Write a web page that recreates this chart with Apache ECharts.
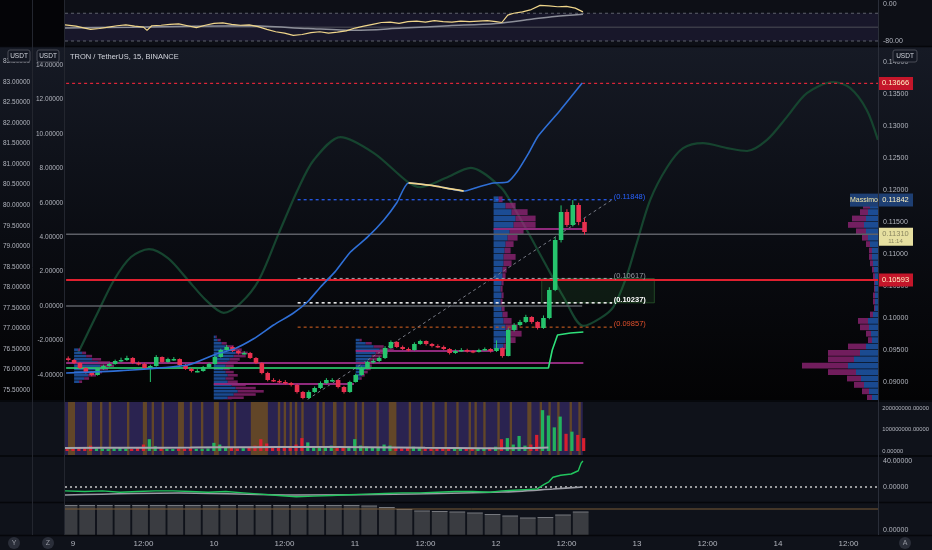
<!DOCTYPE html>
<html><head><meta charset="utf-8">
<script src="https://cdn.jsdelivr.net/npm/echarts@6/dist/echarts.min.js"></script>
<style>html,body{margin:0;padding:0;background:#0e1017;}#c{width:932px;height:550px;}</style>
</head><body><div id="c"></div><script>
// ---------- DATA ----------
const xTickHours = [0,12,24,36,48,60,72,84,96,108,120,132];
const xTickLabels = ['9','12:00','10','12:00','11','12:00','12','12:00','13','12:00','14','12:00'];

const candleStartHour = -1;
const firstOpen = 0.09370;
const closes = [0.09344,0.09297,0.09219,0.09156,0.09109,0.09203,0.09250,0.09281,0.09328,0.09344,
 0.09375,0.09297,0.09281,0.09219,0.09250,0.09391,0.09313,0.09359,0.09359,0.09266,
 0.09203,0.09172,0.09172,0.09234,0.09281,0.09391,0.09500,0.09547,0.09484,0.09453,
 0.09453,0.09375,0.09297,0.09141,0.09031,0.09016,0.09000,0.08984,0.08953,0.08844,
 0.08750,0.08844,0.08906,0.08984,0.09031,0.09031,0.08922,0.08844,0.09000,0.09109,
 0.09219,0.09313,0.09328,0.09375,0.09531,0.09625,0.09547,0.09516,0.09500,0.09594,
 0.09641,0.09594,0.09563,0.09547,0.09516,0.09453,0.09484,0.09500,0.09484,0.09469,
 0.09500,0.09516,0.09484,0.09531,0.09406,0.09813,0.09891,0.09938,0.10016,0.09938,
 0.09844,0.10000,0.10438,0.11219,0.11656,0.11453,0.11766,0.11500,0.11344];
const highs = [0.09400,0.09360,0.09310,0.09230,0.09170,0.09220,0.09270,0.09300,0.09350,0.09380,
 0.09410,0.09390,0.09320,0.09300,0.09270,0.09420,0.09400,0.09380,0.09390,0.09370,
 0.09280,0.09220,0.09200,0.09250,0.09300,0.09420,0.09520,0.09580,0.09560,0.09500,
 0.09480,0.09470,0.09390,0.09310,0.09160,0.09060,0.09040,0.09030,0.09000,0.08970,
 0.08860,0.08870,0.08930,0.09010,0.09060,0.09060,0.09040,0.08940,0.09020,0.09130,
 0.09240,0.09330,0.09360,0.09400,0.09560,0.09650,0.09640,0.09570,0.09540,0.09620,
 0.09660,0.09650,0.09610,0.09590,0.09570,0.09530,0.09510,0.09530,0.09520,0.09500,
 0.09520,0.09540,0.09530,0.09650,0.09540,0.09840,0.09920,0.09970,0.10050,0.10030,
 0.09950,0.10040,0.10480,0.11260,0.11760,0.11700,0.11842,0.11800,0.11560];
const lows = [0.09320,0.09280,0.09200,0.09130,0.09090,0.09100,0.09190,0.09240,0.09270,0.09310,
 0.09330,0.09280,0.09260,0.09200,0.09000,0.09240,0.09300,0.09300,0.09330,0.09250,
 0.09190,0.09150,0.09150,0.09160,0.09220,0.09270,0.09380,0.09490,0.09470,0.09430,
 0.09430,0.09360,0.09280,0.09120,0.09010,0.09000,0.08980,0.08960,0.08930,0.08820,
 0.08730,0.08740,0.08830,0.08890,0.08970,0.09000,0.08900,0.08820,0.08830,0.08990,
 0.09100,0.09200,0.09290,0.09310,0.09360,0.09520,0.09530,0.09500,0.09480,0.09490,
 0.09580,0.09570,0.09540,0.09530,0.09500,0.09430,0.09440,0.09470,0.09460,0.09450,
 0.09460,0.09490,0.09460,0.09470,0.09380,0.09400,0.09790,0.09870,0.09920,0.09910,
 0.09820,0.09830,0.09980,0.10420,0.11180,0.11420,0.11430,0.11450,0.11300];
const volumesM = [12,10,14,18,25,12,10,9,12,15,11,10,
 14,30,55,22,12,10,9,12,11,13,10,9,12,
 38,30,15,14,12,13,18,25,55,35,20,15,14,
 16,30,60,40,20,16,14,25,18,20,15,55,
 25,20,18,16,30,25,14,12,15,20,14,12,
 11,13,15,12,10,11,12,10,12,14,15,20,
 55,60,30,70,25,30,75,190,165,110,160,80,90,75,60];
const volMaHours = [-1.36,10,20,30,40,50,60,70,78,81];
const volMaM = [14,15,16,18,19,18,15,13,14,16];

const stripeStart = [-0.85,2.38,4.6,6.1,9.2,11.9,13.4,15.1,17.9,19.9,21.8,24.0,26.35,27.4,30.3,34.9,35.9,36.9,37.8,38.9,41.5,42.5,44.3,46.1,48.0,49.2,51.7,53.8,57.2,59.2,61.2,63.3,65.3,67.4,68.4,69.9,72.3,74.4,77.4,79.5,81.0,82.5,84.6,86.1];
const stripeEnd   = [0.34,3.23,5.0,6.5,9.6,12.6,13.8,15.5,18.9,20.3,22.2,24.85,26.75,27.8,33.2,35.3,36.3,37.3,38.2,39.3,41.9,42.9,44.9,46.5,48.4,49.6,52.1,55.1,57.6,59.6,61.6,63.7,65.7,67.8,68.8,70.3,72.7,74.8,78.1,79.9,81.4,82.9,85.0,86.5];

// top oscillator (%R)
const wrHours = [-1.36,0.5,2,3,4.5,6,7.5,9,10.5,12,12.6,13.4,15,16.5,18,19.5,21,22.5,24,25.5,27,28.5,30,31.5,33,34.5,36,37.5,39,40.5,42,43.5,45,46.5,48,49.5,51,52.5,54,55.5,57,58.5,60,61.5,63,64.5,66,67.5,69,70.5,72,73,74,75,76.5,78,79.5,81,82.5,84,85.5,86.8];
const wrValues = [-45,-48,-52,-55,-53,-50,-47,-45,-48,-50,-57,-47,-46,-44,-43,-47,-51,-46,-42,-41,-44,-46,-45,-49,-55,-60,-63,-68,-66,-62,-60,-63,-61,-58,-52,-48,-44,-40,-39,-42,-38,-37,-39,-36,-38,-39,-37,-38,-37,-36,-38,-40,-24,-20,-17,-12,-3,-4,-6,-5,-9,-17];
const wrMaHours = [-1.36,10,20,30,40,48,56,64,72,78,82,86.8];
const wrMaValues = [-52,-50,-48,-47,-53,-57,-52,-47,-42,-33,-27,-22];
const wrLevels = [-20,-50,-80];

// main-pane indicators
const blueHours = [-1.36,8.0,19.4,23.8,27.2,30.6,34.0,37.4,39.8,42.0,44.5,47.1,50.0,52.8,55.0,57.0,61.6,64.2,66.4,68.9,71.5,73.9,75.5,77.5,79.1,82.9,86.6];
const blueValues = [-3.89,-3.75,-3.42,-2.84,-2.5,-1.9,-1.1,-0.4,0.25,1.11,2.0,3.14,4.0,5.0,6.0,7.15,6.97,6.80,6.68,6.92,7.15,7.21,7.8,8.9,9.88,11.39,12.95];
const yellowHours = [57.0,61.6,64.2,66.4];
const yellowValues = [7.15,6.97,6.80,6.68];
const waveHours = [0.68,3.74,6.81,9.70,12.77,16.0,19.4,22.47,25.5,28.4,31.5,34.9,38.1,40.85,45.4,51.1,56.85,59.06,63.3,67.6,72.7,74.9,77.8,80.7,83.4,86.8,89.7,91.9,93.96,95.8,98.2,101.1,103.8,107.2,111.3,114.7,118.1,121.5,124.9,129.4,132.3,135.1,137.0];
const waveValues = [76.40,77.30,78.18,78.74,78.93,78.71,78.18,77.69,77.38,77.62,78.18,79.32,80.37,81.10,81.66,81.27,80.57,80.44,80.66,80.91,80.44,79.96,79.23,78.47,77.77,77.06,77.25,77.52,78.18,79.03,80.13,80.93,81.39,81.51,81.39,81.32,81.59,82.15,82.73,83.00,82.85,82.32,81.59];
const stepHours = [-1.36,80.85,81.5,82.4,84.6,86.8];
const stepPrices = [0.09219,0.09219,0.09500,0.09734,0.09766,0.09781];
const pocPrices = [0.09297,0.08969,0.09484,0.11391];
const pocFrom = [-1.36,23.8,48.0,71.5];
const pocTo = [86.8,47.7,71.5,86.8];

const fibPrices = [0.11848,0.10617,0.10237,0.09857];
const fibLow = 0.08626, fibHigh = 0.11848;
const fibFromHour = 38.1, fibToHour = 91.7;
const boxHours = [79.7,98.9];
const boxPrices = [0.10237,0.10617];

const redDashedLevel = 0.13666;
const redSolidLevel = 0.10593;
const lastPriceLevel = 0.11310;
const innerZeroLevel = 0;

const tagPrices = [0.13666,0.11842,0.11310,0.10593];
const tagNotes = ['', 'Massimo', '11:14', ''];

const priceTicks = [0.09,0.095,0.10,0.105,0.11,0.115,0.12,0.125,0.13,0.135,0.14];
const innerTicks = [-4,-2,0,2,4,6,8,10,12,14];
const outerTicks = [75.5,76,76.5,77,77.5,78,78.5,79,79.5,80,80.5,81,81.5,82,82.5,83,83.5];
const volTicks = [0,100000000,200000000];
const oscTicks = [0,40];
const wrTicks = [0,-80];

// oscillator pane
const oscHours = [-1.36,2,5,8,11,14,17,20,23,26,29,32,35,38,41,44,47,50,53,56,59,62,65,68,71,73,75,77,79,80.2,81,81.7,83,84.8,86,86.5,86.8];
const oscValues = [-6,-7,-6,-8,-7,-6,-6,-7,-8,-7,-9,-11,-13,-15,-14,-13,-12,-11,-10,-9,-9,-8,-7,-7,-8,-6,-5,-4,-3,4,8,15,18,20,25,37,40];
const oscMaHours = [-1.36,18,38,58,73,81.7,86.8];
const oscMaValues = [-12.3,-9.2,-12.3,-10.8,-7.7,-3.1,0];

// bottom pane
const lowHours = [-0.5,2.5,5.5,8.5,11.5,14.5,17.5,20.5,23.5,26.5,29.5,32.5,35.5,38.5,41.5,44.5,47.5,50.5,53.5,56.5,59.5,62.5,65.5,68.5,71.5,74.5,77.5,80.5,83.5,86.5];
const lowValues = [24.5,24.5,24.5,24.5,24.5,24.5,24.5,24.5,24.5,24.5,24.5,24.5,24.5,24.5,24.5,24.5,24.5,24,22.5,20.5,19,18.5,18,17,15.5,14,12,12.5,15,18];
const lowLevel = 21;

// volume profiles
const profiles = [
 {anchor:0, dir:1, step:0.0005, start:0.0900,
  up:[5,10,14,18,22,26,24,18,12,8,4], down:[3,5,8,10,12,14,12,9,6,4,2]},
 {anchor:23.8, dir:1, step:0.0005, start:0.0870,
  up:[10,14,20,24,22,18,14,12,14,12,10,12,14,16,20,22,18,12,8,4,2],
  down:[8,16,22,26,20,14,10,8,10,8,6,8,10,10,12,12,10,8,5,3,1]},
 {anchor:48, dir:1, step:0.0005, start:0.0905,
  up:[4,6,8,10,10,12,14,16,20,24,18,10,4], down:[2,3,4,5,6,7,8,10,12,14,10,6,2]},
 {anchor:71.5, dir:1, step:0.001, start:0.0955,
  up:[10,12,14,12,10,9,8,7,8,7,8,9,9,10,10,11,12,14,16,20,22,18,12,5],
  down:[6,10,14,12,8,5,3,2,2,2,2,3,4,8,12,6,8,10,14,22,20,16,10,4]},
 {anchor:137.021, dir:-1, step:0.001, start:0.0875,
  up:[6,9,14,17,22,30,24,18,12,6,7,9,10,5,3,3,3,3,3,3,4,5,6,6,8,10,12,14,12,10,8,4],
  down:[5,7,10,14,28,46,26,32,18,4,5,9,10,3,1,2,2,1,1,2,2,3,3,3,4,6,10,16,14,8,7,2]}
];

// ---------- CHART ----------
const X_MIN = -1.3617, X_MAX = 137.021, LAST_H = 86.85;
const FONT = "'Liberation Sans',sans-serif";
const LBL = '#b2b5be';
const UP = '#26c46d', DOWN = '#e8304f';
const VOL_MIN = -18.6e6, VOL_MAX = 227.9e6;

const chart = echarts.init(document.getElementById('c'), null, {renderer:'canvas'});

const grids = [
 {left:65,right:54,top:0,height:46},
 {left:65,right:54,top:47,height:353},
 {left:65,right:54,top:402,height:53},
 {left:65,right:54,top:457,height:45},
 {left:65,right:54,top:503,height:32}
];
const xAxes = grids.map((g,i)=>({
 type:'value', gridIndex:i, min:X_MIN, max:X_MAX, show:i===4,
 axisLine:{show:false}, axisTick:{show:false}, splitLine:{show:false},
 axisLabel: i===4 ? {customValues:xTickHours, color:LBL, fontSize:8, fontFamily:FONT, margin:5,
   formatter:(v)=>{const k=xTickHours.indexOf(v);return k>=0?xTickLabels[k]:'';}} : {show:false}
}));
function yA(o){
 return Object.assign({type:'value', axisLine:{show:false}, axisTick:{show:false}, splitLine:{show:false}}, o);
}
const yAxes = [
 yA({gridIndex:0, position:'right', min:-90.81, max:8.65, axisLabel:{customValues:wrTicks, color:LBL, fontSize:7, fontFamily:FONT, margin:5, formatter:v=>v.toFixed(2)}}),
 yA({gridIndex:1, position:'right', min:0.0871875, max:0.1423438, axisLabel:{customValues:priceTicks, color:LBL, fontSize:7, fontFamily:FONT, margin:5, formatter:v=>v.toFixed(5)}}),
 yA({gridIndex:1, position:'left', min:-5.454, max:15.045, axisLabel:{customValues:innerTicks, color:LBL, fontSize:6.5, fontFamily:FONT, margin:3, formatter:v=>v.toFixed(5)}}),
 yA({gridIndex:1, position:'left', offset:33, min:75.257, max:83.852, axisLabel:{customValues:outerTicks, color:LBL, fontSize:6.5, fontFamily:FONT, margin:3, formatter:v=>v.toFixed(5)}}),
 yA({gridIndex:2, position:'right', min:VOL_MIN, max:VOL_MAX, axisLabel:{customValues:volTicks, color:LBL, fontSize:5.8, fontFamily:FONT, margin:5, formatter:v=>v.toFixed(5)}}),
 yA({gridIndex:3, position:'right', min:-23.08, max:46.15, axisLabel:{customValues:oscTicks, color:LBL, fontSize:7, fontFamily:FONT, margin:5, formatter:v=>v.toFixed(5)}}),
 yA({gridIndex:4, position:'right', min:-5, max:27, axisLabel:{customValues:[0], color:LBL, fontSize:7, fontFamily:FONT, margin:5, formatter:v=>v.toFixed(5)}})
];

function pairs(xs, ys){ return xs.map((x,i)=>[x, ys[i]]); }
function line(xi, yi, data, color, width, opts){
 return Object.assign({type:'line', xAxisIndex:xi, yAxisIndex:yi, data, symbol:'none', silent:true,
  animation:false, z:3, lineStyle:{color, width, type:'solid'}}, opts||{});
}
function seg(xi, yi, x1, y1, x2, y2, color, width, type, z){
 return line(xi, yi, [[x1,y1],[x2,y2]], color, width, {z:z||3, lineStyle:{color, width, type:type||'solid'}});
}

const series = [];

// ---- top pane
series.push({type:'custom', xAxisIndex:0, yAxisIndex:0, silent:true, z:1, clip:true, data:[[X_MIN, wrLevels[0], X_MAX, wrLevels[2]]],
 renderItem:(p,api)=>{const a=api.coord([api.value(0),api.value(1)]), b=api.coord([api.value(2),api.value(3)]);
  return {type:'rect', shape:{x:a[0],y:a[1],width:b[0]-a[0],height:b[1]-a[1]}, style:{fill:'rgba(110,80,190,0.12)'}};}});
series.push(seg(0,0,X_MIN,wrLevels[0],X_MAX,wrLevels[0],'#5d606b',1.2,[3,3]));
series.push(seg(0,0,X_MIN,wrLevels[2],X_MAX,wrLevels[2],'#5d606b',1.2,[3,3]));
series.push(seg(0,0,X_MIN,wrLevels[1],X_MAX,wrLevels[1],'#3a3b47',1.5));
series.push(line(0,0,pairs(wrMaHours,wrMaValues),'#8d8f99',1.5,{smooth:0.3}));
series.push(line(0,0,pairs(wrHours,wrValues),'#efd58a',1.2,{z:4}));

// ---- main pane
series.push(line(1,3,pairs(waveHours,waveValues),'#16442f',2.2,{smooth:0.3, z:1}));

// green box
series.push({type:'custom', xAxisIndex:1, yAxisIndex:1, silent:true, z:2, clip:true, data:[[boxHours[0],boxPrices[1],boxHours[1],boxPrices[0]]],
 renderItem:(p,api)=>{const a=api.coord([api.value(0),api.value(1)]), b=api.coord([api.value(2),api.value(3)]);
  return {type:'rect', shape:{x:a[0],y:a[1],width:b[0]-a[0],height:b[1]-a[1]}, style:{fill:'rgba(56,142,60,0.14)', stroke:'rgba(76,175,80,0.35)', lineWidth:1}};}});

// volume profiles
profiles.forEach(pr=>{
 const data = pr.up.map((u,i)=>[pr.anchor, pr.start + i*pr.step, u, pr.down[i]]);
 series.push({type:'custom', xAxisIndex:1, yAxisIndex:1, silent:true, z:2, clip:true, data,
  renderItem:(p,api)=>{
   const a=api.coord([api.value(0), api.value(1)+pr.step/2]);
   const b=api.coord([api.value(0), api.value(1)-pr.step/2]);
   const h=Math.max(1,b[1]-a[1]-0.6);
   const u=api.value(2), d=api.value(3), x0=a[0];
   const bx = pr.dir>0 ? x0 : x0-u;
   const px = pr.dir>0 ? x0+u : x0-u-d;
   return {type:'group', children:[
    {type:'rect', shape:{x:bx,y:a[1],width:u,height:h}, style:{fill:'rgba(33,92,180,0.80)'}},
    {type:'rect', shape:{x:px,y:a[1],width:d,height:h}, style:{fill:'rgba(160,40,130,0.70)'}}
   ]};
  }});
});

// horizontal levels
series.push(seg(1,1,X_MIN,redDashedLevel,X_MAX,redDashedLevel,'#e2263a',1.2,[3,3],3));
series.push(seg(1,1,X_MIN,lastPriceLevel,X_MAX,lastPriceLevel,'#5d5f66',1.5,'solid',3));
series.push(seg(1,2,X_MIN,innerZeroLevel,86.6,innerZeroLevel,'#5d5f66',1.5,'solid',3));
// fib
const fibColors = ['#2962ff','#9598a1','#e8e8e8','#b8561e'];
const fibLabelColors = ['#2962ff','#9598a1','#ffffff','#e0502c'];
fibPrices.forEach((fp,i)=>series.push(seg(1,1,fibFromHour,fp,fibToHour,fp,fibColors[i],i===2?1.6:1.2,[3,3],3)));
series.push(seg(1,1,fibFromHour,fibLow,fibToHour,fibHigh,'#787b86',1,[3,3],3));
series.push({type:'custom', xAxisIndex:1, yAxisIndex:1, silent:true, z:6, clip:false,
 data:fibPrices.map((fp,i)=>[fibToHour, fp, i]),
 renderItem:(p,api)=>{const c=api.coord([api.value(0)+0.1,api.value(1)]); const i=api.value(2);
  return {type:'text', style:{text:'('+api.value(1).toFixed(5)+')', x:c[0]+1, y:c[1]+1, fill:fibLabelColors[i],
   fontSize:7.5, fontFamily:FONT, fontWeight:i===2?'bold':'normal', textAlign:'left', align:'left', textVerticalAlign:'bottom', verticalAlign:'bottom'}};}});
// red solid
series.push(seg(1,1,X_MIN,redSolidLevel,X_MAX,redSolidLevel,'#e0202f',2,'solid',4));
// POC lines
pocPrices.forEach((pp,i)=>series.push(seg(1,1,pocFrom[i],pp,pocTo[i],pp,'#8f2a7c',2,'solid',3)));
// green step line
series.push(line(1,1,pairs(stepHours,stepPrices),'#2fe07a',1.6,{z:4}));

// candles
const candleData = closes.map((c,i)=>[candleStartHour+i, i===0?firstOpen:closes[i-1], c, lows[i], highs[i]]);
series.push({type:'custom', xAxisIndex:1, yAxisIndex:1, silent:true, z:5, clip:true, data:candleData,
 renderItem:(p,api)=>{
  const x=api.value(0), o=api.value(1), c=api.value(2), l=api.value(3), h=api.value(4);
  const t=api.coord([x,Math.max(o,c)]), b=api.coord([x,Math.min(o,c)]);
  const hi=api.coord([x,h]), lo=api.coord([x,l]);
  const w=api.size([0.78,0])[0];
  const col=c>=o?UP:DOWN;
  return {type:'group', children:[
   {type:'line', shape:{x1:hi[0],y1:hi[1],x2:lo[0],y2:lo[1]}, style:{stroke:col,lineWidth:1}},
   {type:'rect', shape:{x:t[0]-w/2,y:t[1],width:w,height:Math.max(1.5,b[1]-t[1])}, style:{fill:col}}
  ]};
 }});

// blue indicator + highlight
series.push(line(1,2,pairs(blueHours,blueValues),'#2f6fd6',1.6,{z:6, smooth:0.2}));
series.push(line(1,2,pairs(yellowHours,yellowValues),'#f2d48a',1.8,{z:7, smooth:0.2}));

// price tags
const tagBg = ['#c4162a','#1e3f73','#e6dfa0','#c4162a'];
const tagFg = ['#fff3c4','#fff3c4','#8a8660','#fff3c4'];
series.push({type:'custom', xAxisIndex:1, yAxisIndex:1, silent:true, z:20, clip:false,
 data:tagPrices.map((tp,i)=>[X_MAX, tp, i]),
 renderItem:(p,api)=>{
  const c=api.coord([api.value(0),api.value(1)]); const i=api.value(2);
  const kids=[];
  const tall = (i===2);
  kids.push({type:'rect', shape:{x:c[0],y:c[1]-6.5,width:35,height:tall?18:13}, style:{fill:tagBg[i]}});
  kids.push({type:'text', style:{text:api.value(1).toFixed(5), x:c[0]+17.5, y:c[1], fill:tagFg[i], fontSize:7.5, fontFamily:FONT, textAlign:'center', align:'center', textVerticalAlign:'middle', verticalAlign:'middle'}});
  if(i===2){kids.push({type:'text', style:{text:tagNotes[i], x:c[0]+17.5, y:c[1]+7.5, fill:tagFg[i], fontSize:6, fontFamily:FONT, textAlign:'center', align:'center', textVerticalAlign:'middle', verticalAlign:'middle'}});}
  if(i===1){
   kids.push({type:'rect', shape:{x:c[0]-28,y:c[1]-6.5,width:28,height:13}, style:{fill:tagBg[i]}});
   kids.push({type:'text', style:{text:tagNotes[i], x:c[0]-14, y:c[1], fill:'#f3e7a6', fontSize:7, fontFamily:FONT, textAlign:'center', align:'center', textVerticalAlign:'middle', verticalAlign:'middle'}});
  }
  return {type:'group', children:kids};
 }});

// ---- volume pane
series.push({type:'custom', xAxisIndex:2, yAxisIndex:4, silent:true, z:1, clip:true, data:[[X_MIN, LAST_H]],
 renderItem:(p,api)=>{const a=api.coord([api.value(0),VOL_MAX]), b=api.coord([api.value(1),VOL_MIN]);
  return {type:'rect', shape:{x:a[0],y:a[1],width:b[0]-a[0],height:b[1]-a[1]}, style:{fill:'#2a2350'}};}});
series.push({type:'custom', xAxisIndex:2, yAxisIndex:4, silent:true, z:2, clip:true, data:stripeStart.map((s,i)=>[s, stripeEnd[i]]),
 renderItem:(p,api)=>{const a=api.coord([api.value(0),VOL_MAX]), b=api.coord([api.value(1),VOL_MIN]);
  return {type:'rect', shape:{x:a[0],y:a[1],width:Math.max(1.2,b[0]-a[0]),height:b[1]-a[1]}, style:{fill:'rgba(120,85,25,0.72)'}};}});
series.push({type:'custom', xAxisIndex:2, yAxisIndex:4, silent:true, z:4, clip:true,
 data:volumesM.map((v,i)=>[candleStartHour+i, v*1e6, closes[i]>=(i===0?firstOpen:closes[i-1])?1:0]),
 renderItem:(p,api)=>{const x=api.value(0); const p0=api.coord([x,0]), p1=api.coord([x,api.value(1)]);
  const w=api.size([0.55,0])[0];
  return {type:'rect', shape:{x:p0[0]-w/2,y:p1[1],width:w,height:p0[1]-p1[1]}, style:{fill:api.value(2)?'#22b25e':'#d81f30'}};}});
series.push(line(2,4,pairs(volMaHours,volMaM.map(v=>v*1e6)),'#a3a5ad',2,{z:5, smooth:0.3}));

// ---- oscillator pane
series.push(seg(3,5,X_MIN,0,X_MAX,0,'#c8c8c8',1.5,[2,3],2));
series.push(line(3,5,pairs(oscMaHours,oscMaValues),'#9a9ca4',1.6,{smooth:0.3}));
series.push(line(3,5,pairs(oscHours,oscValues),'#22c55e',1.4,{z:4}));

// ---- bottom pane
series.push({type:'custom', xAxisIndex:4, yAxisIndex:6, silent:true, z:2, clip:true, data:pairs(lowHours,lowValues),
 renderItem:(p,api)=>{const x=api.value(0); const p0=api.coord([x,-5]), p1=api.coord([x,api.value(1)]);
  const w=api.size([2.85,0])[0];
  return {type:'group', children:[
   {type:'rect', shape:{x:p0[0]-w/2,y:p1[1],width:w-1,height:p0[1]-p1[1]}, style:{fill:'#3a3c41'}},
   {type:'line', shape:{x1:p0[0]-w/2,y1:p1[1],x2:p0[0]+w/2-1,y2:p1[1]}, style:{stroke:'#76787e',lineWidth:1}}
  ]};}});
series.push(seg(4,6,X_MIN,lowLevel,X_MAX,lowLevel,'#7a5a36',1,'solid',3));

// ---------- graphics ----------
const G = [];
G.push({type:'rect', z:-20, shape:{x:0,y:0,width:932,height:550}, style:{fill:'#0e1017'}});
G.push({type:'rect', z:-19, shape:{x:0,y:0,width:932,height:46}, style:{fill:'#0d0f16'}});
G.push({type:'rect', z:-19, shape:{x:0,y:0,width:65,height:46}, style:{fill:'#040407'}});
G.push({type:'rect', z:-19, shape:{x:0,y:47,width:932,height:353}, style:{fill:{type:'linear',x:0,y:0,x2:0,y2:1,colorStops:[{offset:0,color:'#161a25'},{offset:0.55,color:'#0a0c12'},{offset:1,color:'#030304'}]}}});
[[402,53],[457,45],[503,32],[536,14]].forEach(r=>G.push({type:'rect', z:-19, shape:{x:0,y:r[0],width:932,height:r[1]}, style:{fill:'#0f121a'}}));
[46.5,401,456,502.5,535.5].forEach(y=>G.push({type:'line', z:50, shape:{x1:0,y1:y,x2:932,y2:y}, style:{stroke:'#05060a',lineWidth:1.5}}));
[32.5,64.5].forEach(x=>G.push({type:'line', z:50, shape:{x1:x,y1:0,x2:x,y2:535}, style:{stroke:'#23262f',lineWidth:1}}));
G.push({type:'line', z:50, shape:{x1:878.5,y1:0,x2:878.5,y2:535}, style:{stroke:'#2a2e39',lineWidth:1}});
G.push({type:'text', z:60, x:70, y:57, style:{text:'TRON / TetherUS, 15, BINANCE', fill:'#d1d4dc', fontSize:7.5, fontFamily:FONT, textVerticalAlign:'middle', verticalAlign:'middle'}});
[[8,50,22],[37,50,22],[893,50,24]].forEach(b=>{
 G.push({type:'rect', z:60, shape:{x:b[0],y:b[1],width:b[2],height:12,r:2}, style:{fill:'#131722',stroke:'#4a4d57',lineWidth:1}});
 G.push({type:'text', z:61, x:b[0]+b[2]/2, y:b[1]+6, style:{text:'USDT', fill:'#d1d4dc', fontSize:6.5, fontFamily:FONT, textAlign:'center', align:'center', textVerticalAlign:'middle', verticalAlign:'middle'}});
});
[['Y',14],['Z',48],['A',905]].forEach(c=>{
 G.push({type:'circle', z:60, shape:{cx:c[1],cy:543,r:6}, style:{fill:'#2a2e39'}});
 G.push({type:'text', z:61, x:c[1], y:543, style:{text:c[0], fill:'#9598a1', fontSize:7, fontFamily:FONT, textAlign:'center', align:'center', textVerticalAlign:'middle', verticalAlign:'middle'}});
});

chart.setOption({
 animation:false,
 backgroundColor:'transparent',
 grid:grids, xAxis:xAxes, yAxis:yAxes, series, graphic:{elements:G}
});
</script></body></html>
